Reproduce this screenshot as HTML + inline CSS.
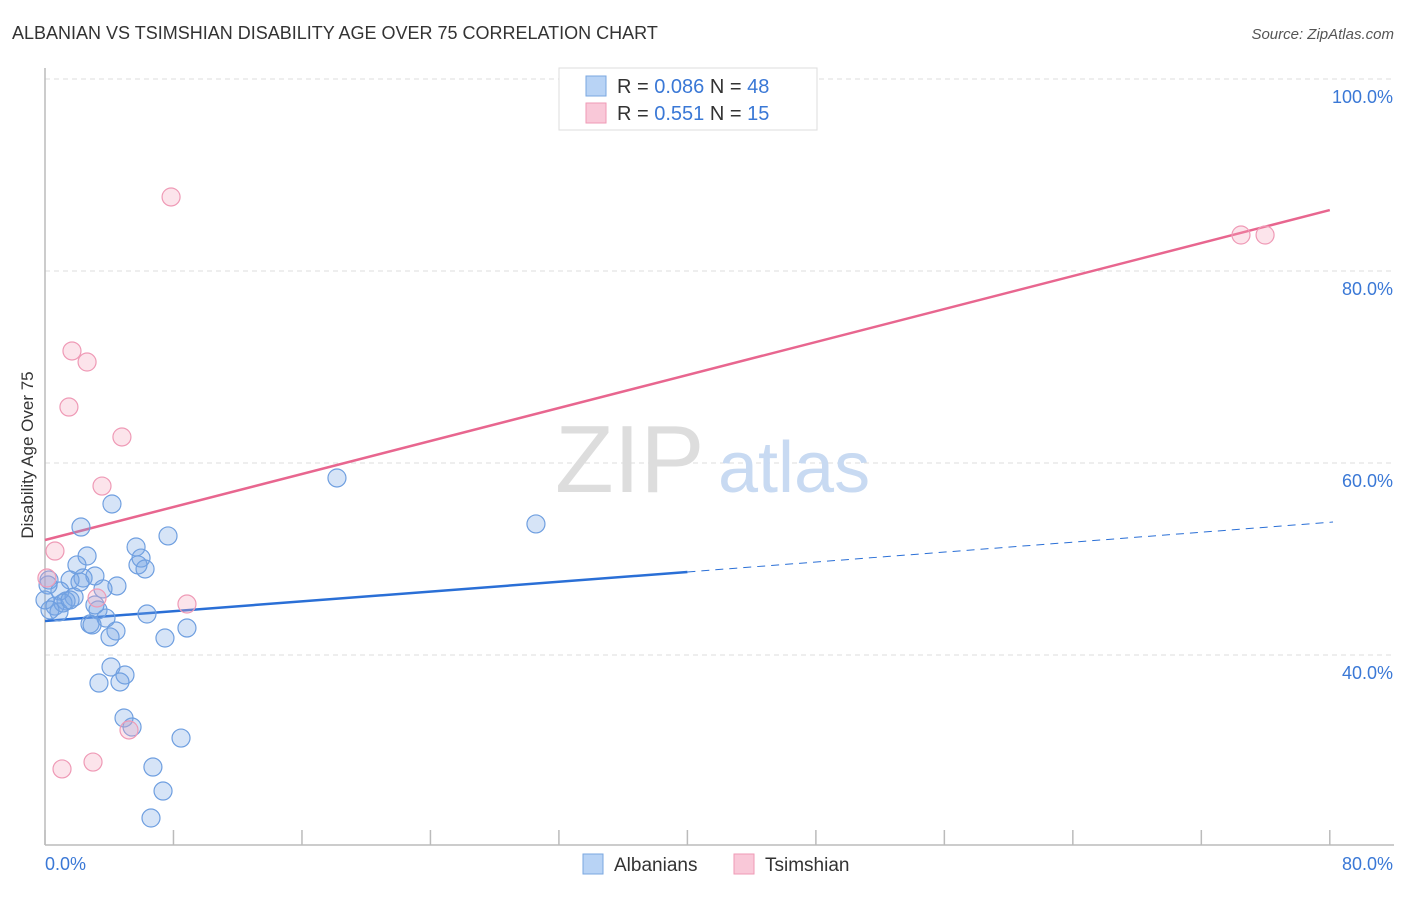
<!DOCTYPE html>
<html><head><meta charset="utf-8"><style>
body{margin:0;background:#fff;font-family:"Liberation Sans",sans-serif;}
svg text{font-family:"Liberation Sans",sans-serif;}
</style></head><body>
<svg width="1406" height="892" xmlns="http://www.w3.org/2000/svg">
<text x="12" y="39" font-size="18" fill="#333">ALBANIAN VS TSIMSHIAN DISABILITY AGE OVER 75 CORRELATION CHART</text>
<text x="1394" y="39" font-size="15" fill="#555" text-anchor="end" font-style="italic">Source: ZipAtlas.com</text>
<text x="33" y="455" font-size="17" fill="#333" text-anchor="middle" transform="rotate(-90 33 455)">Disability Age Over 75</text>
<g id="grid"></g>
<line x1="45" y1="68" x2="45" y2="845" stroke="#bbb" stroke-width="1.5"/>
<line x1="45" y1="845" x2="1394" y2="845" stroke="#bbb" stroke-width="1.5"/>
<text x="555" y="492" font-size="96" fill="#ddd" font-family="Liberation Serif">ZIP</text>
<text x="718" y="492" font-size="72" fill="#c8daf2">atlas</text>
<g id="lines"></g>
<g id="points"></g>
<g id="ticks"></g>
<g>
<rect x="559" y="68" width="258" height="62" fill="#fff" stroke="#ddd"/>
<rect x="586" y="76" width="20" height="20" fill="#b8d3f5" stroke="#7aa7e0"/>
<rect x="586" y="103" width="20" height="20" fill="#f9c8d8" stroke="#ef9ab6"/>
<text x="617" y="93" font-size="20" fill="#333">R = <tspan fill="#3a78d6">0.086</tspan>   N = <tspan fill="#3a78d6">48</tspan></text>
<text x="617" y="120" font-size="20" fill="#333">R =  <tspan fill="#3a78d6">0.551</tspan>   N =  <tspan fill="#3a78d6">15</tspan></text>
</g>
<g>
<rect x="583" y="854" width="20" height="20" fill="#b8d3f5" stroke="#7aa7e0"/>
<text x="614" y="871" font-size="19" fill="#333">Albanians</text>
<rect x="734" y="854" width="20" height="20" fill="#f9c8d8" stroke="#ef9ab6"/>
<text x="765" y="871" font-size="19" fill="#333">Tsimshian</text>
</g>
</svg>
<script>
const yTicks=[100,80,60,40];
const yTickLabels=["100.0%","80.0%","60.0%","40.0%"];
const albX=[4.17,2.24,7.66,5.67,2.62,5.98,1.99,5.79,6.23,3.11,0.25,2.37,1.56,4.48,3.61,0.93,1.81,1.31,0,0.62,1.12,3.30,6.35,0.87,3.80,2.80,2.93,4.42,8.84,4.05,7.47,4.11,4.98,3.36,4.67,4.92,5.42,8.47,6.72,7.35,6.60,18.18,30.57,0.31,0.19,3.11,1.56,2.18];
const albY=[55.73,53.33,52.40,51.25,50.31,50.10,49.38,49.38,48.96,48.23,47.81,48.02,47.81,47.19,46.88,46.67,46.04,45.63,45.73,45.10,45.42,44.69,44.27,44.48,43.85,43.23,43.13,42.50,42.81,41.88,41.77,38.75,37.92,37.08,37.19,33.44,32.50,31.35,28.33,25.83,23.02,58.44,53.65,44.69,47.29,45.21,45.73,47.60];
const tsiX=[7.85,74.47,75.97,1.68,2.62,1.49,4.79,3.55,0.62,0.12,8.84,3.24,5.23,1.06,2.99];
const tsiY=[87.71,83.75,83.75,71.67,70.52,65.83,62.71,57.6,50.83,48.02,45.31,45.94,32.19,28.13,28.85];
const albTrend=[43.54,48.65,53.85]; // at x=0,40,80.2
const tsiTrend=[51.98,86.35]; // at x=0,80
const NS="http://www.w3.org/2000/svg";
const sx=v=>45+v*16.06, sy=v=>79+(100-v)*9.6;
function mk(tag,attrs,parent){const e=document.createElementNS(NS,tag);for(const k in attrs)e.setAttribute(k,attrs[k]);document.getElementById(parent).appendChild(e);return e;}
yTicks.forEach((t,i)=>{
 const g=mk('line',{x1:45,x2:1394,y1:sy(t),y2:sy(t),stroke:'#ddd','stroke-dasharray':'5,4'},'grid');
 
 
 const l=mk('text',{x:1393,y:sy(t)+24,'font-size':18,fill:'#3a78d6','text-anchor':'end'},'ticks');
 l.textContent=yTickLabels[i];
 
 
});
for(let i=0;i<=10;i++){
 const t=mk('line',{x1:sx(i*8),x2:sx(i*8),y1:830,y2:845,stroke:'#bbb','stroke-width':1.5},'ticks');
 
 
}
const x0=mk('text',{x:45,y:870,'font-size':18,fill:'#3a78d6'},'ticks');x0.textContent="0.0%";


const x1=mk('text',{x:1393,y:870,'font-size':18,fill:'#3a78d6','text-anchor':'end'},'ticks');x1.textContent="80.0%";


albX.forEach((x,i)=>{
 const c=mk('circle',{cx:sx(x),cy:sy(albY[i]),r:9,fill:'rgba(120,165,230,0.3)',stroke:'#6f9fe0','stroke-width':1.2},'points');
 
 
});
tsiX.forEach((x,i)=>{
 const c=mk('circle',{cx:sx(x),cy:sy(tsiY[i]),r:9,fill:'rgba(245,165,190,0.3)',stroke:'#ef9ab6','stroke-width':1.2},'points');
 
 
});
const a1=mk('line',{x1:sx(0),y1:sy(albTrend[0]),x2:sx(40),y2:sy(albTrend[1]),stroke:'#2a6fd6','stroke-width':2.5},'lines');


const a2=mk('line',{x1:sx(40),y1:sy(albTrend[1]),x2:sx(80.2),y2:sy(albTrend[2]),stroke:'#2a6fd6','stroke-width':1,'stroke-dasharray':'8,6'},'lines');


const t1=mk('line',{x1:sx(0),y1:sy(tsiTrend[0]),x2:sx(80),y2:sy(tsiTrend[1]),stroke:'#e8668f','stroke-width':2.5},'lines');


</script>
</body></html>
